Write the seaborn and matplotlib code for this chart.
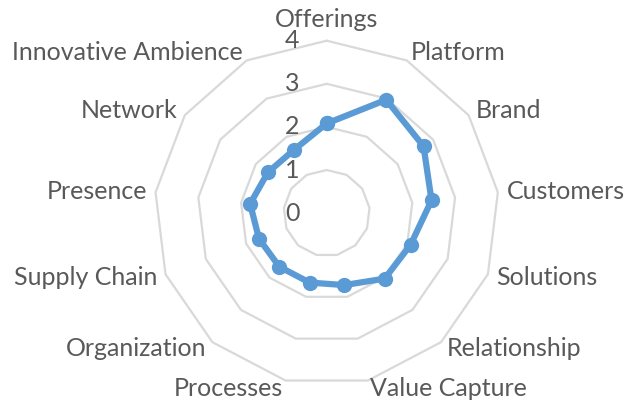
import numpy as np
import pandas as pd
import matplotlib
matplotlib.use("Agg")
import matplotlib.pyplot as plt
import seaborn as sns

categories = ["Offerings", "Platform", "Brand", "Customers", "Solutions",
              "Relationship", "Value Capture", "Processes", "Organization",
              "Supply Chain", "Presence", "Network", "Innovative Ambience"]
values = [2.08, 2.97, 2.73, 2.45, 2.08, 2.03, 1.72, 1.66, 1.66, 1.68, 1.79, 1.66, 1.65]
rings = [1, 2, 3, 4]
tick_labels = ["0", "1", "2", "3", "4"]

sns.set_style("white")
plt.rcParams["font.family"] = ["Lato", "DejaVu Sans"]

TEXT = "#595959"
GRID = "#D9D9D9"
LINE = "#5B9BD5"
FS = 18

fig = plt.figure(figsize=(6.26, 4.07), dpi=100)
ax = fig.add_axes([0.2465, 0.0528, 0.5508, 0.8472], projection="polar")
ax.set_theta_zero_location("N")
ax.set_theta_direction(-1)
ax.set_ylim(0, 4)
ax.grid(False)
ax.spines["polar"].set_visible(False)
ax.set_xticks([])
ax.set_yticks([])
ax.patch.set_alpha(0)

n = len(categories)
theta = np.arange(n) * 2 * np.pi / n
theta_c = np.append(theta, 2 * np.pi)

for r in rings:
    ax.plot(theta_c, [r] * (n + 1), color=GRID, lw=1.6, clip_on=False, zorder=1)

df = pd.DataFrame({"theta": theta_c, "value": values + values[:1]})
sns.lineplot(data=df, x="theta", y="value", sort=False, estimator=None, ax=ax,
             color=LINE, lw=4.5, marker="o", markersize=11, markeredgewidth=0,
             markerfacecolor=LINE, clip_on=False, zorder=3)
ax.set_xlabel("")
ax.set_ylabel("")
ax.set_ylim(0, 4)

# tick labels for the radial axis
for k, lab in enumerate(tick_labels):
    ax.annotate(lab, xy=(0, k), xytext=(-27, 0), textcoords="offset pixels",
                ha="right", va="center", fontsize=FS, color=TEXT)

# category labels
for t, lab in zip(theta, categories):
    s = np.sin(t)
    if abs(s) < 1e-6:
        ax.text(t, 4.22, lab, ha="center", va="bottom", fontsize=FS, color=TEXT)
    else:
        ax.text(t, 4.2, lab, ha="left" if s > 0 else "right", va="center",
                fontsize=FS, color=TEXT)

fig.savefig("out.png", dpi=100)
